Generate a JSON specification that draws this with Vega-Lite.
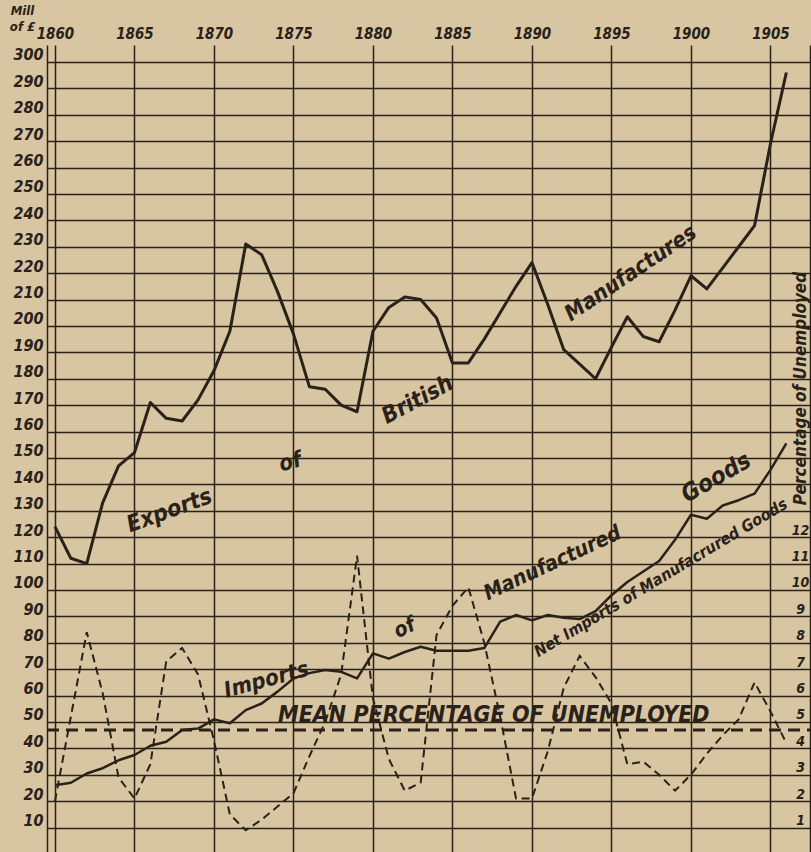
{
  "$schema": "https://vega.github.io/schema/vega-lite/v6.json",
  "width": 764,
  "height": 807,
  "autosize": {"type": "none"},
  "padding": {"left": 47, "top": 45, "right": 0, "bottom": 0},
  "background": "#d8c5a2",
  "config": {"view": {"stroke": null}},
  "datasets": {
    "trade": [
      {"year": 1860, "exports": 124, "imports": 26, "unemployed": 2.0},
      {"year": 1861, "exports": 112, "imports": 27, "unemployed": 5.2},
      {"year": 1862, "exports": 110, "imports": 30.5, "unemployed": 8.4},
      {"year": 1863, "exports": 133, "imports": 32.5, "unemployed": 6.1},
      {"year": 1864, "exports": 147, "imports": 35.5, "unemployed": 2.9},
      {"year": 1865, "exports": 152, "imports": 37.5, "unemployed": 2.1},
      {"year": 1866, "exports": 171, "imports": 41, "unemployed": 3.4},
      {"year": 1867, "exports": 165, "imports": 42.5, "unemployed": 7.3},
      {"year": 1868, "exports": 164, "imports": 47, "unemployed": 7.8},
      {"year": 1869, "exports": 172, "imports": 47.5, "unemployed": 6.8},
      {"year": 1870, "exports": 183, "imports": 51, "unemployed": 4.3},
      {"year": 1871, "exports": 198, "imports": 49.5, "unemployed": 1.5},
      {"year": 1872, "exports": 231, "imports": 54.5, "unemployed": 0.9},
      {"year": 1873, "exports": 227, "imports": 57, "unemployed": 1.3},
      {"year": 1874, "exports": 213, "imports": 61.5, "unemployed": 1.8},
      {"year": 1875, "exports": 197, "imports": 66.5, "unemployed": 2.3},
      {"year": 1876, "exports": 177, "imports": 68.5, "unemployed": 3.7},
      {"year": 1877, "exports": 176, "imports": 69.7, "unemployed": 5.0},
      {"year": 1878, "exports": 170, "imports": 69, "unemployed": 6.8},
      {"year": 1879, "exports": 167.5, "imports": 66.5, "unemployed": 11.3},
      {"year": 1880, "exports": 198, "imports": 76, "unemployed": 5.9},
      {"year": 1881, "exports": 207, "imports": 74, "unemployed": 3.6},
      {"year": 1882, "exports": 211, "imports": 76.5, "unemployed": 2.4},
      {"year": 1883, "exports": 210, "imports": 78.5, "unemployed": 2.7},
      {"year": 1884, "exports": 203, "imports": 77, "unemployed": 8.3},
      {"year": 1885, "exports": 186, "imports": 77, "unemployed": 9.4},
      {"year": 1886, "exports": 186, "imports": 77, "unemployed": 10.1},
      {"year": 1887, "exports": 195, "imports": 78, "unemployed": 8.0},
      {"year": 1888, "exports": 205, "imports": 88, "unemployed": 5.2},
      {"year": 1889, "exports": 215, "imports": 90.5, "unemployed": 2.1},
      {"year": 1890, "exports": 224, "imports": 88.5, "unemployed": 2.1},
      {"year": 1891, "exports": 208, "imports": 90.5, "unemployed": 3.9},
      {"year": 1892, "exports": 191, "imports": 89.5, "unemployed": 6.3},
      {"year": 1893, "exports": 185.5, "imports": 89, "unemployed": 7.5},
      {"year": 1894, "exports": 180, "imports": 92, "unemployed": 6.7},
      {"year": 1895, "exports": 192, "imports": 98, "unemployed": 5.7},
      {"year": 1896, "exports": 203.5, "imports": 103, "unemployed": 3.4},
      {"year": 1897, "exports": 196, "imports": 107, "unemployed": 3.5},
      {"year": 1898, "exports": 194, "imports": 111, "unemployed": 3.0},
      {"year": 1899, "exports": 206, "imports": 119, "unemployed": 2.4},
      {"year": 1900, "exports": 219, "imports": 128.5, "unemployed": 3.0},
      {"year": 1901, "exports": 214, "imports": 127, "unemployed": 3.8},
      {"year": 1902, "exports": 222, "imports": 132, "unemployed": 4.5},
      {"year": 1903, "exports": 230, "imports": 134, "unemployed": 5.1},
      {"year": 1904, "exports": 238, "imports": 136.5, "unemployed": 6.5},
      {"year": 1905, "exports": 269, "imports": 145.5, "unemployed": 5.4},
      {"year": 1906, "exports": 296, "imports": 155.5, "unemployed": 4.2}
    ]
  },
  "resolve": {"scale": {"y": "independent"}, "axis": {"y": "independent"}},
  "encoding": {
    "x": {"field": "year", "type": "quantitative",
      "scale": {"domain": [1859.5, 1907.55], "nice": false, "zero": false},
      "axis": {"orient": "top", "values": [1860, 1865, 1870, 1875, 1880, 1885, 1890, 1895, 1900, 1905], "format": "d", "title": null,
        "grid": true, "gridColor": "#2a2119", "gridWidth": 1.5, "gridOpacity": 1,
        "domain": false, "ticks": false, "tickSize": 0, "labelPadding": 4,
        "labelFont": "DejaVu Sans Condensed, Liberation Sans Narrow, Liberation Sans, sans-serif", "labelFontSize": 15, "labelFontWeight": "bold", "labelFontStyle": "italic", "labelColor": "#2a2119"}}
  },
  "layer": [
    {
      "data": {"name": "trade"},
      "mark": {"type": "line", "color": "#2a2119", "strokeWidth": 3, "strokeJoin": "round"},
      "encoding": {
        "y": {"field": "exports", "type": "quantitative",
          "scale": {"domain": [0.76, 306.4], "nice": false, "zero": false},
          "axis": {"orient": "left", "values": [10, 20, 30, 40, 50, 60, 70, 80, 90, 100, 110, 120, 130, 140, 150, 160, 170, 180, 190, 200, 210, 220, 230, 240, 250, 260, 270, 280, 290, 300],
            "grid": true, "gridColor": "#2a2119", "gridWidth": 1.4, "gridOpacity": 1,
            "domain": true, "domainColor": "#2a2119", "domainWidth": 1.5,
            "ticks": false, "tickSize": 0, "labelPadding": 4, "labelOffset": -7,
            "labelFont": "DejaVu Sans Condensed, Liberation Sans Narrow, Liberation Sans, sans-serif", "labelFontSize": 16, "labelFontWeight": "bold", "labelFontStyle": "italic", "labelColor": "#2a2119",
            "title": ["Mill", "of £"], "titleAngle": 0, "titleX": -25, "titleY": -41, "titleAlign": "center", "titleBaseline": "top",
            "titleFont": "DejaVu Sans Condensed, Liberation Sans Narrow, Liberation Sans, sans-serif", "titleFontSize": 13, "titleFontWeight": "bold", "titleFontStyle": "italic", "titleColor": "#2a2119", "titleLineHeight": 16}}
      }
    },
    {
      "data": {"name": "trade"},
      "mark": {"type": "line", "color": "#2a2119", "strokeWidth": 2.5, "strokeJoin": "round"},
      "encoding": {
        "y": {"field": "imports", "type": "quantitative", "scale": {"domain": [0.76, 306.4], "nice": false, "zero": false}, "axis": null}
      }
    },
    {
      "data": {"name": "trade"},
      "mark": {"type": "line", "color": "#2a2119", "strokeWidth": 2, "strokeDash": [8, 5]},
      "encoding": {
        "y": {"field": "unemployed", "type": "quantitative",
          "scale": {"domain": [0.076, 30.64], "nice": false, "zero": false},
          "axis": {"orient": "right", "offset": -1, "values": [1, 2, 3, 4, 5, 6, 7, 8, 9, 10, 11, 12],
            "grid": false, "domain": true, "domainColor": "#2a2119", "domainWidth": 1.5,
            "ticks": false, "tickSize": 0, "labelPadding": -10, "labelAlign": "center", "labelOffset": -7,
            "labelFont": "DejaVu Sans Condensed, Liberation Sans Narrow, Liberation Sans, sans-serif", "labelFontSize": 14, "labelFontWeight": "bold", "labelFontStyle": "italic", "labelColor": "#2a2119",
            "title": "Percentage of Unemployed", "titleAngle": 270, "titleX": -10, "titleY": 343, "titleAlign": "center", "titleBaseline": "middle",
            "titleFont": "DejaVu Sans Condensed, Liberation Sans Narrow, Liberation Sans, sans-serif", "titleFontSize": 17, "titleFontWeight": "bold", "titleFontStyle": "italic", "titleColor": "#2a2119"}}
      }
    },
    {
      "data": {"values": [{"year": 1859.5, "mean": 4.7}, {"year": 1907.55, "mean": 4.7}]},
      "mark": {"type": "line", "color": "#2a2119", "strokeWidth": 3, "strokeDash": [12, 7]},
      "encoding": {
        "y": {"field": "mean", "type": "quantitative", "scale": {"domain": [0.076, 30.64], "nice": false, "zero": false}, "axis": null}
      }
    },
    {
      "data": {"values": [
        {"label": "Exports", "year": 1867.2, "v": 130}
      ]},
      "mark": {"type": "text", "angle": 340, "fontSize": 23, "fontWeight": "bold", "fontStyle": "italic", "font": "DejaVu Sans Condensed, Liberation Sans Narrow, Liberation Sans, sans-serif", "color": "#2a2119", "align": "center", "baseline": "middle"},
      "encoding": {
        "y": {"field": "v", "type": "quantitative", "scale": {"domain": [0.76, 306.4], "nice": false, "zero": false}, "axis": null},
        "text": {"field": "label"}
      }
    },
    {
      "data": {"values": [
        {"label": "of", "year": 1874.8, "v": 148.5},
        {"label": "Imports", "year": 1873.3, "v": 66}
      ]},
      "mark": {"type": "text", "angle": 345, "fontSize": 22, "fontWeight": "bold", "fontStyle": "italic", "font": "DejaVu Sans Condensed, Liberation Sans Narrow, Liberation Sans, sans-serif", "color": "#2a2119", "align": "center", "baseline": "middle"},
      "encoding": {
        "y": {"field": "v", "type": "quantitative", "scale": {"domain": [0.76, 306.4], "nice": false, "zero": false}, "axis": null},
        "text": {"field": "label"}
      }
    },
    {
      "data": {"values": [
        {"label": "British", "year": 1882.8, "v": 172}
      ]},
      "mark": {"type": "text", "angle": 332, "fontSize": 23, "fontWeight": "bold", "fontStyle": "italic", "font": "DejaVu Sans Condensed, Liberation Sans Narrow, Liberation Sans, sans-serif", "color": "#2a2119", "align": "center", "baseline": "middle"},
      "encoding": {
        "y": {"field": "v", "type": "quantitative", "scale": {"domain": [0.76, 306.4], "nice": false, "zero": false}, "axis": null},
        "text": {"field": "label"}
      }
    },
    {
      "data": {"values": [
        {"label": "of", "year": 1882.0, "v": 85.5},
        {"label": "Manufactured", "year": 1891.3, "v": 110}
      ]},
      "mark": {"type": "text", "angle": 335, "fontSize": 21, "fontWeight": "bold", "fontStyle": "italic", "font": "DejaVu Sans Condensed, Liberation Sans Narrow, Liberation Sans, sans-serif", "color": "#2a2119", "align": "center", "baseline": "middle"},
      "encoding": {
        "y": {"field": "v", "type": "quantitative", "scale": {"domain": [0.76, 306.4], "nice": false, "zero": false}, "axis": null},
        "text": {"field": "label"}
      }
    },
    {
      "data": {"values": [
        {"label": "Goods", "year": 1901.6, "v": 142.4}
      ]},
      "mark": {"type": "text", "angle": 330, "fontSize": 24, "fontWeight": "bold", "fontStyle": "italic", "font": "DejaVu Sans Condensed, Liberation Sans Narrow, Liberation Sans, sans-serif", "color": "#2a2119", "align": "center", "baseline": "middle"},
      "encoding": {
        "y": {"field": "v", "type": "quantitative", "scale": {"domain": [0.76, 306.4], "nice": false, "zero": false}, "axis": null},
        "text": {"field": "label"}
      }
    },
    {
      "data": {"values": [
        {"label": "Manufactures", "year": 1896.2, "v": 220}
      ]},
      "mark": {"type": "text", "angle": 326, "fontSize": 22, "fontWeight": "bold", "fontStyle": "italic", "font": "DejaVu Sans Condensed, Liberation Sans Narrow, Liberation Sans, sans-serif", "color": "#2a2119", "align": "center", "baseline": "middle"},
      "encoding": {
        "y": {"field": "v", "type": "quantitative", "scale": {"domain": [0.76, 306.4], "nice": false, "zero": false}, "axis": null},
        "text": {"field": "label"}
      }
    },
    {
      "data": {"values": [
        {"label": "Net Imports of Manufacrured Goods", "year": 1898.1, "v": 104.5}
      ]},
      "mark": {"type": "text", "angle": 329, "fontSize": 16, "fontWeight": "bold", "fontStyle": "italic", "font": "DejaVu Sans Condensed, Liberation Sans Narrow, Liberation Sans, sans-serif", "color": "#2a2119", "align": "center", "baseline": "middle"},
      "encoding": {
        "y": {"field": "v", "type": "quantitative", "scale": {"domain": [0.76, 306.4], "nice": false, "zero": false}, "axis": null},
        "text": {"field": "label"}
      }
    },
    {
      "data": {"values": [
        {"label": "MEAN PERCENTAGE OF UNEMPLOYED", "year": 1887.6, "v": 52.6}
      ]},
      "mark": {"type": "text", "angle": 0, "fontSize": 23, "fontWeight": "bold", "fontStyle": "italic", "font": "DejaVu Sans Condensed, Liberation Sans Narrow, Liberation Sans, sans-serif", "color": "#2a2119", "align": "center", "baseline": "middle"},
      "encoding": {
        "y": {"field": "v", "type": "quantitative", "scale": {"domain": [0.76, 306.4], "nice": false, "zero": false}, "axis": null},
        "text": {"field": "label"}
      }
    }
  ]
}
